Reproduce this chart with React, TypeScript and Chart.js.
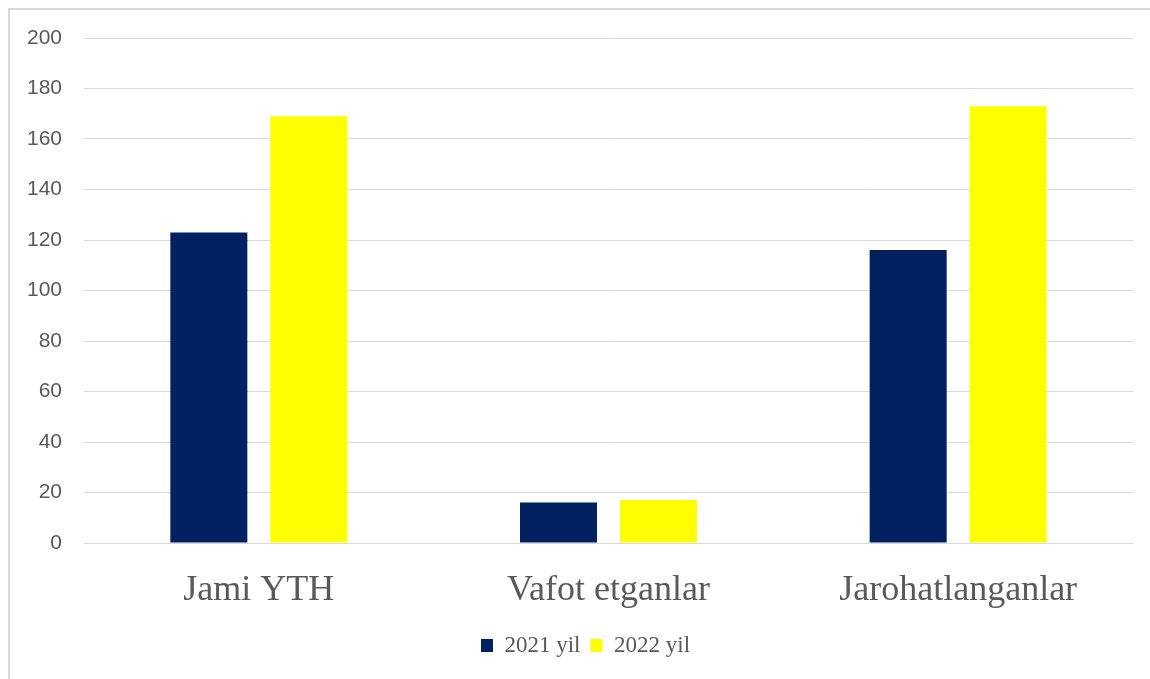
import React, { useEffect, useRef } from "react";
import { Chart, registerables } from "chart.js";

Chart.register(...registerables);

const categories = ["Jami YTH", "Vafot etganlar", "Jarohatlanganlar"];
const values2021 = [123, 16, 116];
const values2022 = [169, 17, 173];
const seriesNames = ["2021 yil", "2022 yil"];
const seriesColors = ["#002060", "#FFFF00"];
const yMin = 0;
const yMax = 200;
const yStep = 20;

const shiftLegend = {
  id: "shiftLegend",
  afterLayout(chart: any) {
    if (chart.legend) {
      chart.legend.left += 28;
    }
  },
};

export default function App() {
  const canvasRef = useRef<HTMLCanvasElement | null>(null);

  useEffect(() => {
    if (!canvasRef.current) return;
    const chart = new Chart(canvasRef.current, {
      type: "bar",
      data: {
        labels: categories,
        datasets: [
          {
            label: seriesNames[0],
            data: values2021,
            backgroundColor: seriesColors[0],
            borderWidth: 0,
          },
          {
            label: seriesNames[1],
            data: values2022,
            backgroundColor: seriesColors[1],
            borderWidth: 0,
          },
        ],
      },
      plugins: [shiftLegend],
      options: {
        animation: false,
        responsive: true,
        maintainAspectRatio: false,
        layout: { padding: { top: 28, right: 17, bottom: 12, left: 0 } },
        datasets: {
          bar: { categoryPercentage: 0.572, barPercentage: 0.77 },
        },
        plugins: {
          tooltip: { enabled: false },
          legend: {
            position: "bottom",
            labels: {
              boxWidth: 12,
              boxHeight: 13,
              padding: 10,
              color: "#595959",
              font: { family: "'Liberation Serif', serif", size: 23 },
            },
          },
        },
        scales: {
          x: {
            grid: { display: false },
            border: { display: false },
            ticks: {
              color: "#595959",
              padding: 18,
              font: { family: "'Liberation Serif', serif", size: 36 },
            },
            afterFit: (s: any) => {
              s.height = 81;
            },
          },
          y: {
            min: yMin,
            max: yMax,
            border: { display: false },
            grid: {
              color: "#d9d9d9",
              lineWidth: 1,
              drawTicks: true,
              tickLength: 22,
              tickColor: "rgba(0,0,0,0)",
            },
            ticks: {
              stepSize: yStep,
              color: "#595959",
              padding: 0,
              font: { family: "'Liberation Sans', sans-serif", size: 21 },
            },
            afterFit: (s: any) => {
              s.width = 74;
            },
          },
        },
      },
    });
    return () => chart.destroy();
  }, []);

  return (
    <div
      style={{
        position: "fixed",
        left: 8,
        top: 8,
        width: 1142,
        height: 671,
        borderTop: "2px solid #d9d9d9",
        borderLeft: "2px solid #d9d9d9",
        background: "#fff",
      }}
    >
      <div style={{ position: "relative", width: 1140, height: 669 }}>
        <canvas ref={canvasRef} />
      </div>
    </div>
  );
}
